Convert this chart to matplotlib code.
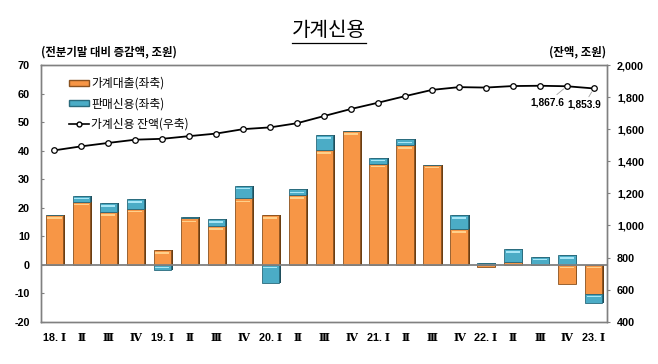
import matplotlib
matplotlib.use("Agg")
import matplotlib.pyplot as plt
from matplotlib.patches import Patch
from matplotlib.lines import Line2D
import numpy as np

plt.rcParams['font.family'] = ['Noto Sans CJK KR', 'DejaVu Sans']

categories = ["18. Ⅰ", "Ⅱ", "Ⅲ", "Ⅳ", "19. Ⅰ", "Ⅱ", "Ⅲ", "Ⅳ", "20. Ⅰ", "Ⅱ", "Ⅲ", "Ⅳ",
              "21. Ⅰ", "Ⅱ", "Ⅲ", "Ⅳ", "22. Ⅰ", "Ⅱ", "Ⅲ", "Ⅳ", "23. Ⅰ"]
loans = [17.3, 22.1, 18.4, 19.6, 5.2, 16.2, 13.5, 23.2, 17.4, 24.4, 40.2, 46.8,
         35.4, 41.9, 35.1, 12.4, -0.9, 0.8, 0.0, -6.9, -10.2]
sales = [0.0, 2.1, 3.1, 3.3, -1.9, 0.6, 2.4, 4.5, -6.3, 2.0, 5.2, 0.0,
         2.1, 2.0, 0.0, 5.0, 0.5, 4.6, 2.8, 3.3, -3.4]
balance = [1468.2, 1493.2, 1514.4, 1534.6, 1540.0, 1556.7, 1572.7, 1600.3, 1611.3,
           1637.3, 1682.1, 1726.1, 1765.0, 1805.9, 1844.9, 1862.1, 1859.4, 1868.9,
           1870.7, 1867.6, 1853.9]
left_ticks = [-20, -10, 0, 10, 20, 30, 40, 50, 60, 70]
right_ticks = [400, 600, 800, 1000, 1200, 1400, 1600, 1800, 2000]
annot_idx = [19, 20]

ORANGE = "#F79646"
ORANGE_HI = "#FFD08A"
ORANGE_DK = "#6B3E12"
BLUE = "#4BACC6"
BLUE_HI = "#A8E6F6"
BLUE_DK = "#1F4E5C"
GRAY = "#808080"
NUMFONT = ['Liberation Sans', 'DejaVu Sans']

fig = plt.figure(figsize=(6.58, 3.64), dpi=100)
ax = fig.add_axes([0.0623, 0.1162, 0.8607, 0.7052])
ax2 = ax.twinx()

x = np.arange(len(categories))
loans_a = np.array(loans)
sales_a = np.array(sales)
w = 0.64
sh = 0.07

l_bottom = np.zeros(len(x))
s_bottom = np.where(sales_a >= 0, np.maximum(loans_a, 0), np.minimum(loans_a, 0))

# shadows
ax.bar(x + sh, loans_a, w, bottom=l_bottom, color=ORANGE_DK, zorder=2, linewidth=0)
ax.bar(x + sh, sales_a, w, bottom=s_bottom, color=BLUE_DK, zorder=2, linewidth=0)
# main bars
ax.bar(x, loans_a, w, bottom=l_bottom, color=ORANGE, edgecolor="#8A5220", linewidth=0.6, zorder=3)
ax.bar(x, sales_a, w, bottom=s_bottom, color=BLUE, edgecolor="#2A6A7C", linewidth=0.6, zorder=3)
# highlights near top of each segment
hl = 0.55
for vals, bots, col in [(loans_a, l_bottom, ORANGE_HI), (sales_a, s_bottom, BLUE_HI)]:
    tops = np.where(vals >= 0, bots + vals, bots)
    mask = np.abs(vals) >= 1.2
    ax.bar(x[mask], np.full(mask.sum(), hl), w * 0.82,
           bottom=tops[mask] - 1.3, color=col, linewidth=0, zorder=4)

ax.axhline(0, color=GRAY, lw=1.3, zorder=5)

ax.set_xlim(-0.5, len(x) - 0.5)
ax.set_ylim(-20, 70)
ax.set_yticks(left_ticks)
ax.set_yticklabels([str(t) for t in left_ticks], fontsize=7.8, fontweight='bold', family=NUMFONT)
ax.set_xticks(x)
ax.set_xticklabels(categories, fontsize=7.8, fontweight='bold',
                   family=['Liberation Sans', 'DejaVu Serif'])
ax.tick_params(axis='x', length=0, pad=8)
ax.tick_params(axis='y', direction='in', length=2, color=GRAY, pad=8)

ax2.plot(x, balance, color='black', lw=1.3, marker='o', ms=4,
         markerfacecolor='white', markeredgecolor='black', markeredgewidth=0.9, zorder=6)
ax2.set_ylim(400, 2000)
ax2.set_yticks(right_ticks)
ax2.set_yticklabels([f"{t:,}" for t in right_ticks], fontsize=7.8, fontweight='bold', family=NUMFONT)
ax2.tick_params(axis='y', direction='out', length=2, color=GRAY, pad=5)

for a in (ax, ax2):
    for s in a.spines.values():
        s.set_color(GRAY)
        s.set_linewidth(1.0)

offsets = [(-14, -8), (-7, -8)]
for i, off in zip(annot_idx, offsets):
    ax2.annotate(f"{balance[i]:,.1f}", xy=(x[i], balance[i]), xytext=off,
                 textcoords='offset points', ha='center', va='top', fontsize=7.3,
                 fontweight='bold', family=NUMFONT,
                 arrowprops=dict(arrowstyle='-', color='#A0A0A0', lw=0.6, shrinkA=0, shrinkB=3))

handles = [Patch(facecolor=ORANGE, edgecolor="#8A5220"),
           Patch(facecolor=BLUE, edgecolor="#2A6A7C"),
           Line2D([0], [0], color='black', lw=1.2, marker='o', ms=3.5,
                  markerfacecolor='white', markeredgecolor='black')]
labels = ["가계대출(좌축)", "판매신용(좌축)", "가계신용 잔액(우축)"]
leg = ax2.legend(handles, labels, loc='upper left', bbox_to_anchor=(0.03, 0.995),
                 frameon=False, fontsize=8.5, handlelength=1.7, handleheight=0.45,
                 handletextpad=0.2, labelspacing=0.62)

fig.text(0.0623, 0.857, "(전분기말 대비 증감액, 조원)", fontsize=8.2, fontweight='bold',
         ha='left', va='center')
fig.text(0.921, 0.857, "(잔액, 조원)", fontsize=8.2, fontweight='bold',
         ha='right', va='center')

title = fig.text(0.5, 0.915, "가계신용", fontsize=14.5, ha='center', va='center')
fig.canvas.draw()
bb = title.get_window_extent().transformed(fig.transFigure.inverted())
fig.add_artist(Line2D([bb.x0, bb.x1], [bb.y0 - 0.004, bb.y0 - 0.004],
                      color='black', lw=0.9, transform=fig.transFigure))

fig.savefig("out.png", dpi=100)
